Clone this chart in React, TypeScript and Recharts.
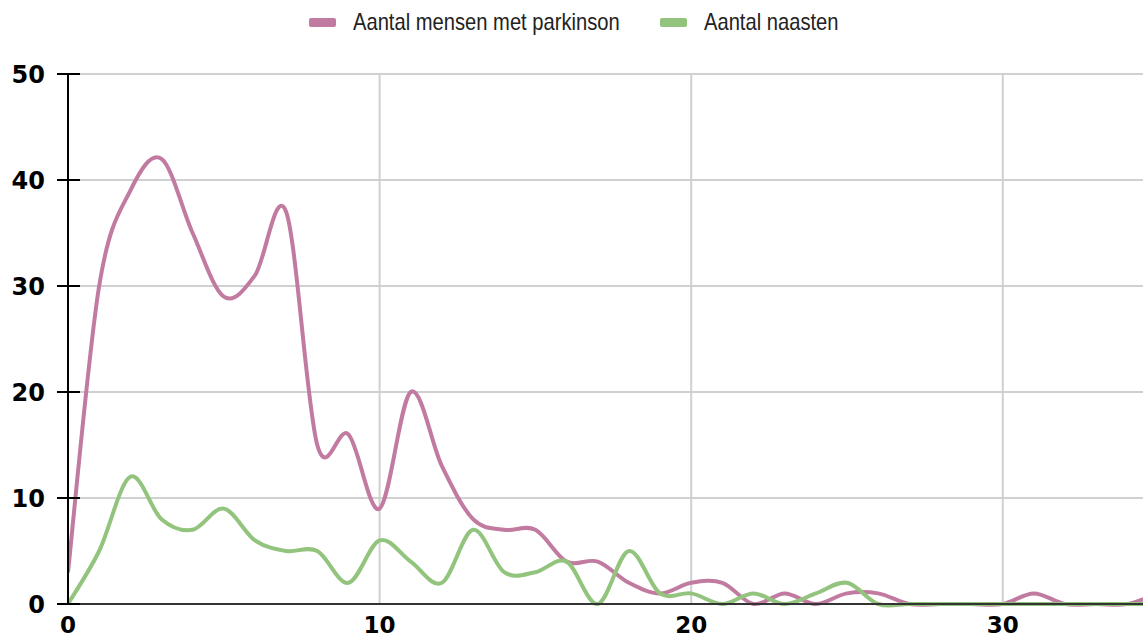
import React from "react";
import { LineChart, Line, XAxis, YAxis, CartesianGrid, Legend } from "recharts";

const xValues = [0, 1, 2, 3, 4, 5, 6, 7, 8, 9, 10, 11, 12, 13, 14, 15, 16, 17, 18, 19, 20, 21, 22, 23, 24, 25, 26, 27, 28, 29, 30, 31, 32, 33, 34, 35];
const parkinsonValues = [3, 30, 39, 42, 35, 29, 31, 37, 15, 16, 9, 20, 13, 8, 7, 7, 4, 4, 2, 1, 2, 2, 0, 1, 0, 1, 1, 0, 0, 0, 0, 1, 0, 0, 0, 1];
const naastenValues = [0, 5, 12, 8, 7, 9, 6, 5, 5, 2, 6, 4, 2, 7, 3, 3, 4, 0, 5, 1, 1, 0, 1, 0, 1, 2, 0, 0, 0, 0, 0, 0, 0, 0, 0, 0];
const xTicks = [0, 10, 20, 30];
const yTicks = [0, 10, 20, 30, 40, 50];
const seriesNames = ["Aantal mensen met parkinson", "Aantal naasten"];
const seriesColors = ["#c27ba0", "#93c47d"];

const data = xValues.map((x, i) => ({
  x,
  parkinson: parkinsonValues[i],
  naasten: naastenValues[i],
}));

// Smooth (Catmull-Rom style) curve factory, passes through every data point.
const smoothCurve = (context: any) => {
  let pts: [number, number][] = [];
  const k = 1 / 6;
  return {
    areaStart() {},
    areaEnd() {},
    lineStart() {
      pts = [];
    },
    point(x: number, y: number) {
      pts.push([+x, +y]);
    },
    lineEnd() {
      const n = pts.length;
      if (!n) return;
      context.moveTo(pts[0][0], pts[0][1]);
      for (let i = 0; i < n - 1; i++) {
        const p0 = pts[i - 1] || pts[i];
        const p1 = pts[i];
        const p2 = pts[i + 1];
        const p3 = pts[i + 2] || p2;
        context.bezierCurveTo(
          p1[0] + k * (p2[0] - p0[0]),
          p1[1] + k * (p2[1] - p0[1]),
          p2[0] - k * (p3[0] - p1[0]),
          p2[1] - k * (p3[1] - p1[1]),
          p2[0],
          p2[1]
        );
      }
    },
  };
};

const Y_TICK_SIZE = 11;
const Y_TICK_MARGIN = 12;
const AXIS_FONT = "'DejaVu Sans', Verdana, sans-serif";

const YTick = (props: any) => {
  const { x, y, payload } = props;
  const axisX = x + Y_TICK_SIZE + Y_TICK_MARGIN;
  return (
    <g>
      <line x1={axisX - 11} x2={axisX + 12} y1={y} y2={y} stroke="#000" strokeWidth={2} />
      <text x={x} y={y} dy="0.36em" textAnchor="end" fontFamily={AXIS_FONT} fontWeight="bold" fontSize={24} fill="#000">
        {payload.value}
      </text>
    </g>
  );
};

const XTick = (props: any) => {
  const { x, y, payload } = props;
  return (
    <text x={x} y={y} dy="0.71em" textAnchor="middle" fontFamily={AXIS_FONT} fontWeight="bold" fontSize={23} fill="#000">
      {payload.value}
    </text>
  );
};

const legendTextWidths = [270, 131];

const renderLegend = (props: any) => {
  const { payload } = props;
  return (
    <div
      style={{
        display: "flex",
        justifyContent: "center",
        alignItems: "center",
        height: 44,
        fontFamily: "'Liberation Sans', Arial, sans-serif",
        fontSize: 24,
        color: "#222",
      }}
    >
      {(payload || []).map((entry: any, i: number) => (
        <span key={i} style={{ display: "flex", alignItems: "center", marginLeft: i > 0 ? 37 : 0 }}>
          <span
            style={{
              display: "inline-block",
              width: 27,
              height: 9,
              borderRadius: 2,
              background: entry.color,
              marginRight: 17,
            }}
          />
          <span style={{ display: "inline-block", width: legendTextWidths[i], whiteSpace: "nowrap" }}>
            <span style={{ display: "inline-block", transform: "scaleX(0.84)", transformOrigin: "left center" }}>
              {entry.value}
            </span>
          </span>
        </span>
      ))}
    </div>
  );
};

export default function App() {
  return (
    <div style={{ position: "fixed", left: 0, top: 0, width: 1143, height: 638, background: "#fff" }}>
      <LineChart width={1143} height={638} data={data} margin={{ top: 30, right: 0, bottom: 0, left: 0 }}>
        <CartesianGrid stroke="#d0d0d0" strokeWidth={2} verticalValues={[10, 20, 30]} horizontalValues={[10, 20, 30, 40, 50]} />
        <XAxis
          dataKey="x"
          type="number"
          domain={[0, 34.5]}
          allowDataOverflow
          ticks={xTicks}
          interval={0}
          height={34}
          tickLine={false}
          tickSize={0}
          tickMargin={13}
          tick={<XTick />}
          axisLine={{ stroke: "#333", strokeWidth: 2 }}
        />
        <YAxis
          type="number"
          domain={[0, 50]}
          ticks={yTicks}
          interval={0}
          width={68}
          tickLine={false}
          tickSize={Y_TICK_SIZE}
          tickMargin={Y_TICK_MARGIN}
          tick={<YTick />}
          axisLine={{ stroke: "#000", strokeWidth: 2 }}
        />
        <Legend verticalAlign="top" align="center" height={44} wrapperStyle={{ top: 0, left: 0 }} content={renderLegend} />
        <Line
          type={smoothCurve as any}
          dataKey="parkinson"
          name={seriesNames[0]}
          stroke={seriesColors[0]}
          strokeWidth={4}
          dot={false}
          activeDot={false}
          isAnimationActive={false}
        />
        <Line
          type={smoothCurve as any}
          dataKey="naasten"
          name={seriesNames[1]}
          stroke={seriesColors[1]}
          strokeWidth={4}
          dot={false}
          activeDot={false}
          isAnimationActive={false}
        />
      </LineChart>
    </div>
  );
}
